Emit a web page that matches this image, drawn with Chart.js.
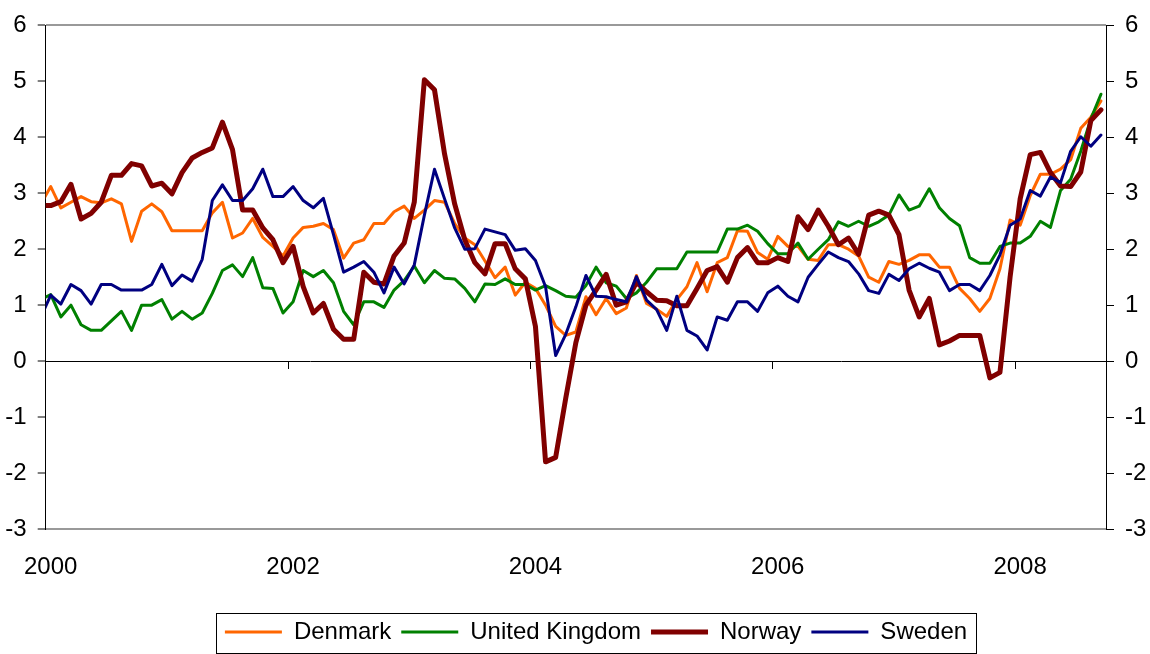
<!DOCTYPE html>
<html>
<head>
<meta charset="utf-8">
<title>Nordic and UK inflation</title>
<script src="https://cdn.jsdelivr.net/npm/chart.js@4/dist/chart.umd.min.js"></script>
<style>
  html, body { margin: 0; padding: 0; background: #fff; }
  #wrap { width: 1150px; height: 654px; }
</style>
</head>
<body>
<div id="wrap"><canvas id="inflationChart" width="1150" height="654"></canvas></div>
<script>
// Monthly series, Dec 1999 through Sep 2008 (first value sits just left of the axis)
const firstMonth = -1; // months after Jan 2000

const yearLabels = ['2000', '2002', '2004', '2006', '2008'];
const yearTicks = [0, 24, 48, 72, 96];

const denmark = [
  2.80,
  3.12, 2.74, 2.84, 2.94, 2.85, 2.83, 2.90, 2.81, 2.14, 2.68, 2.81, 2.67,
  2.33, 2.33, 2.33, 2.33, 2.65, 2.84, 2.20, 2.29, 2.55, 2.21, 2.05, 1.88,
  2.20, 2.39, 2.41, 2.46, 2.35, 1.84, 2.11, 2.17, 2.46, 2.46, 2.67, 2.77,
  2.55, 2.70, 2.87, 2.84, 2.46, 2.20, 2.08, 1.79, 1.49, 1.68, 1.18, 1.41,
  1.30, 1.00, 0.62, 0.46, 0.52, 1.15, 0.83, 1.12, 0.85, 0.95, 1.53, 1.03,
  0.93, 0.80, 1.10, 1.33, 1.76, 1.24, 1.76, 1.85, 2.33, 2.32, 1.94, 1.82,
  2.23, 2.05, 2.05, 1.82, 1.80, 2.08, 2.08, 2.00, 1.88, 1.50, 1.41, 1.78,
  1.73, 1.80, 1.90, 1.90, 1.68, 1.68, 1.30, 1.12, 0.89, 1.12, 1.65, 2.52,
  2.43, 2.96, 3.34, 3.34, 3.43, 3.60, 4.16, 4.36, 4.65
];

const unitedKingdom = [
  1.10,
  1.19, 0.79, 1.00, 0.65, 0.55, 0.55, 0.72, 0.89, 0.55, 1.00, 1.00, 1.10,
  0.75, 0.89, 0.75, 0.86, 1.21, 1.62, 1.72, 1.51, 1.85, 1.31, 1.30, 0.86,
  1.06, 1.62, 1.51, 1.62, 1.40, 0.89, 0.65, 1.06, 1.06, 0.96, 1.27, 1.44,
  1.70, 1.40, 1.62, 1.48, 1.47, 1.30, 1.06, 1.38, 1.37, 1.47, 1.37, 1.37,
  1.27, 1.35, 1.26, 1.16, 1.14, 1.35, 1.68, 1.40, 1.34, 1.12, 1.22, 1.41,
  1.65, 1.65, 1.65, 1.95, 1.95, 1.95, 1.95, 2.36, 2.36, 2.43, 2.32, 2.10,
  1.92, 1.92, 2.11, 1.82, 2.00, 2.17, 2.49, 2.41, 2.50, 2.41, 2.49, 2.61,
  2.97, 2.70, 2.77, 3.08, 2.74, 2.55, 2.42, 1.85, 1.75, 1.75, 2.05, 2.11,
  2.11, 2.23, 2.50, 2.39, 3.05, 3.25, 3.75, 4.33, 4.77
];

const norway = [
  2.78,
  2.78, 2.85, 3.16, 2.54, 2.64, 2.84, 3.32, 3.32, 3.53, 3.49, 3.13, 3.18,
  2.99, 3.37, 3.63, 3.73, 3.81, 4.27, 3.78, 2.70, 2.70, 2.38, 2.17, 1.76,
  2.05, 1.33, 0.86, 1.03, 0.57, 0.39, 0.39, 1.59, 1.41, 1.38, 1.88, 2.11,
  2.84, 5.03, 4.85, 3.70, 2.81, 2.17, 1.76, 1.56, 2.10, 2.10, 1.65, 1.47,
  0.62, -1.80, -1.72, -0.66, 0.33, 1.00, 1.27, 1.55, 1.00, 1.06, 1.41, 1.24,
  1.09, 1.08, 0.99, 0.99, 1.30, 1.62, 1.69, 1.41, 1.85, 2.03, 1.76, 1.76,
  1.85, 1.78, 2.58, 2.35, 2.70, 2.41, 2.08, 2.20, 1.91, 2.61, 2.68, 2.61,
  2.26, 1.27, 0.79, 1.12, 0.29, 0.36, 0.46, 0.46, 0.46, -0.30, -0.20, 1.50,
  2.90, 3.69, 3.73, 3.37, 3.13, 3.12, 3.38, 4.30, 4.49
];

const sweden = [
  0.78,
  1.18, 1.02, 1.37, 1.26, 1.02, 1.37, 1.37, 1.27, 1.27, 1.27, 1.37, 1.73,
  1.35, 1.54, 1.43, 1.82, 2.87, 3.15, 2.87, 2.87, 3.08, 3.43, 2.94, 2.94,
  3.12, 2.87, 2.74, 2.91, 2.26, 1.59, 1.68, 1.78, 1.59, 1.22, 1.68, 1.38,
  1.72, 2.61, 3.43, 2.90, 2.38, 2.00, 2.01, 2.36, 2.31, 2.26, 1.98, 2.01,
  1.80, 1.33, 0.10, 0.48, 0.97, 1.53, 1.16, 1.15, 1.10, 1.06, 1.51, 1.09,
  0.92, 0.55, 1.16, 0.55, 0.45, 0.20, 0.79, 0.73, 1.06, 1.06, 0.89, 1.22,
  1.34, 1.16, 1.06, 1.50, 1.73, 1.95, 1.85, 1.78, 1.56, 1.26, 1.21, 1.55,
  1.44, 1.65, 1.75, 1.66, 1.59, 1.26, 1.37, 1.37, 1.26, 1.53, 1.90, 2.43,
  2.54, 3.05, 2.95, 3.29, 3.19, 3.75, 4.01, 3.84, 4.04
];

// each observation sits in the middle of its month
const toPoints = values => values.map((v, i) => ({ x: firstMonth + i + 0.5, y: v }));

const FONT = { family: '"Liberation Sans", Arial, sans-serif', size: 24 };
Chart.defaults.font.family = FONT.family;
Chart.defaults.font.size = FONT.size;
Chart.defaults.color = '#000';

const yearTickBuilder = scale => {
  scale.ticks = yearTicks.map(v => ({ value: v }));
};

// nudge the legend row and put a frame round it
const legendFrame = {
  id: 'legendFrame',
  afterLayout(chart) {
    const lg = chart.legend;
    lg.left += 21;
    lg.right += 21;
  },
  afterDraw(chart) {
    const lg = chart.legend;
    const boxes = lg.legendHitBoxes;
    if (!boxes || !boxes.length) return;
    const first = boxes[0];
    const last = boxes[boxes.length - 1];
    const ctx = chart.ctx;
    ctx.save();
    ctx.strokeStyle = '#000';
    ctx.lineWidth = 1;
    ctx.strokeRect(Math.round(first.left - 9) + 0.5, Math.round(lg.top + 3) + 0.5,
      Math.round(last.left + last.width - first.left + 18), Math.round(lg.bottom - lg.top - 4));
    ctx.restore();
  }
};

const series = (label, values, color, width, order) => ({
  label,
  data: toPoints(values),
  borderColor: color,
  backgroundColor: color,
  borderWidth: width,
  borderJoinStyle: 'round',
  borderCapStyle: 'round',
  pointRadius: 0,
  tension: 0,
  clip: 0,
  order
});

new Chart(document.getElementById('inflationChart'), {
  type: 'line',
  data: {
    datasets: [
      series('Denmark', denmark, '#ff6600', 3, 4),
      series('United Kingdom', unitedKingdom, '#008000', 3, 3),
      series('Norway', norway, '#800000', 5, 2),
      series('Sweden', sweden, '#000080', 3, 1)
    ]
  },
  options: {
    responsive: false,
    maintainAspectRatio: false,
    animation: false,
    layout: { autoPadding: false, padding: { top: 16, left: 0, right: 0, bottom: 0 } },
    plugins: {
      tooltip: { enabled: false },
      legend: {
        position: 'bottom',
        labels: {
          usePointStyle: true,
          pointStyle: 'line',
          pointStyleWidth: 57,
          padding: 10,
          color: '#000',
          font: FONT,
          sort: (a, b) => a.datasetIndex - b.datasetIndex
        }
      }
    },
    scales: {
      // year labels under the plot
      x: {
        type: 'linear',
        position: 'bottom',
        min: 0,
        max: 105,
        afterBuildTicks: yearTickBuilder,
        afterFit: s => { s.height = 81; },
        grid: { display: false },
        border: { display: false },
        ticks: {
          autoSkip: false,
          maxRotation: 0,
          padding: 16,
          labelOffset: 5,
          font: FONT,
          callback: v => yearLabels[yearTicks.indexOf(v)]
        }
      },
      // time axis line crossing at zero, ticks only
      xZero: {
        type: 'linear',
        axis: 'x',
        position: { y: 0 },
        min: 0,
        max: 105,
        afterBuildTicks: yearTickBuilder,
        grid: { drawOnChartArea: false, color: '#000', tickLength: 7 },
        border: { color: '#000', width: 1 },
        ticks: { display: false }
      },
      y: {
        position: 'left',
        min: -3,
        max: 6,
        afterFit: s => { s.width = 45.7; },
        grid: {
          color: c => (c.tick && (c.tick.value === 6 || c.tick.value === -3)) ? '#999' : 'rgba(0,0,0,0)',
          lineWidth: 2,
          tickColor: '#000',
          tickWidth: 1,
          tickLength: 8
        },
        border: { color: '#000', width: 1 },
        ticks: { stepSize: 1, padding: 11, font: FONT }
      },
      yRight: {
        position: 'right',
        axis: 'y',
        min: -3,
        max: 6,
        afterFit: s => { s.width = 44; },
        grid: { drawOnChartArea: false, tickColor: '#000', tickWidth: 1, tickLength: 8 },
        border: { color: '#000', width: 1 },
        ticks: { stepSize: 1, padding: 11, font: FONT }
      }
    }
  },
  plugins: [legendFrame]
});
</script>
</body>
</html>
